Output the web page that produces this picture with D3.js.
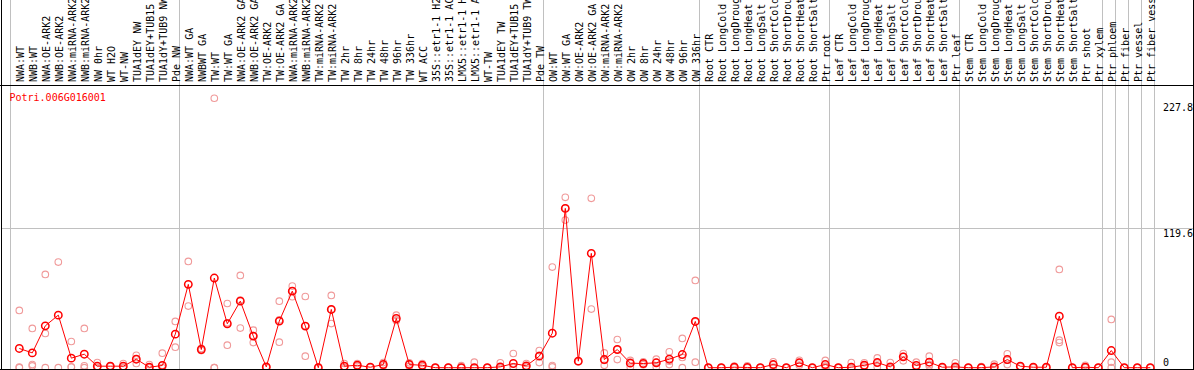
<!DOCTYPE html>
<html>
<head>
<meta charset="utf-8">
<script src="https://cdn.jsdelivr.net/npm/d3@7"></script>
<style>
    body { margin: 0; background: #fff; }
    svg text { font-family: "DejaVu Sans Mono", monospace; font-size: 10px; }
</style>
</head>
<body>
<script>
const gene = "Potri.006G016001";

const samples = [
    "NWA:WT", "NWB:WT", "NWA:OE-ARK2", "NWB:OE-ARK2", "NWA:miRNA-ARK2", "NWB:miRNA-ARK2",
    "NW 0hr", "WT H2O", "WT-NW", "TUA1dEY NW", "TUA1dEY+TUB15 NW", "TUA1dY+TUB9 NW", "Pde NW",
    "NWA:WT GA", "NWBWT GA", "TW:WT", "TW:WT GA", "NWA:OE-ARK2 GA", "NWB:OE-ARK2 GA",
    "TW:OE-ARK2", "TW:OE-ARK2 GA", "NWA:miRNA-ARK2", "NWB:miRNA-ARK2", "TW:miRNA-ARK2",
    "TW:miRNA-ARK2", "TW 2hr", "TW 8hr", "TW 24hr", "TW 48hr", "TW 96hr", "TW 336hr",
    "WT ACC", "35S::etr1-1 H2O", "35S::etr1-1 ACC", "LMX5::etr1-1 H2O", "LMX5::etr1-1 ACC",
    "WT-TW", "TUA1dEY TW", "TUA1dEY+TUB15 TW", "TUA1dY+TUB9 TW", "Pde TW",
    "OW:WT", "OW:WT GA", "OW:OE-ARK2", "OW:OE-ARK2 GA", "OW:miRNA-ARK2", "OW:miRNA-ARK2",
    "OW 2hr", "OW 8hr", "OW 24hr", "OW 48hr", "OW 96hr", "OW 336hr",
    "Root CTR", "Root LongCold", "Root LongDrought", "Root LongHeat", "Root LongSalt",
    "Root ShortCold", "Root ShortDrought", "Root ShortHeat", "Root ShortSalt", "Ptr root",
    "Leaf CTR", "Leaf LongCold", "Leaf LongDrought", "Leaf LongHeat", "Leaf LongSalt",
    "Leaf ShortCold", "Leaf ShortDrought", "Leaf ShortHeat", "Leaf ShortSalt", "Ptr leaf",
    "Stem CTR", "Stem LongCold", "Stem LongDrought", "Stem LongHeat", "Stem LongSalt",
    "Stem ShortCold", "Stem ShortDrought", "Stem ShortHeat", "Stem ShortSalt", "Ptr shoot",
    "Ptr xylem", "Ptr phloem", "Ptr fiber", "Ptr vessel", "Ptr fiber vessel"
];

// mean expression per sample
const means = [
    16.5, 12.7, 35.9, 45.1, 8.2, 11.6, 1.3, 1.3, 1.3, 7.3, 0.4, 1.9, 28.8,
    71.5, 15.6, 76.9, 37.7, 57.1, 27.1, 0.7, 40.0, 65.7, 35.7, 0, 50.0, 1.3, 2.1, 0.4,
    2.7, 42.2, 2.7, 2.1, 0, 0, 0, 0, 0, 0.7, 3.6, 1.6, 9.9,
    29.6, 136.7, 5.6, 98.1, 7.0, 15.6, 3.9, 3.6, 4.2, 7.3, 11.3, 39.7,
    0, 0, 0.4, 0.2, 0, 2.7, 0, 4.2, 0, 2.7,
    0, 0.4, 2.1, 4.4, 0.7, 9.3, 1.9, 4.7, 0.4, 0.7,
    0, 0, 0.7, 7.0, 1.3, 0.4, 0.4, 44.2, 0, 0.4, 0,
    14.7, 0, 0, 0
];

// individual replicates per sample
const reps = [
    [49.1, 0.5, 0], [33.7, 2.7, 1.5], [80, 29.4, 0], [90.6, 0], [22.5, 0.7, 0.5], [33.7, 1.6, 0],
    [4.4, 0, 0], [1.5, 1.3, 1], [3.6, 0.3, 0], [10.7, 3.6, 7.5], [2.7, 0, 0], [12.5, 2, 0], [39.7, 17.6],
    [91.2, 52.9], [16.5, 14.7], [231.2, 0, 0], [55.1, 19.3, 38.5], [79.2, 34, 58], [32.2, 21.6, 27.5],
    [0.7, 0.5], [57.1, 21.9, 41], [70, 60.9, 66], [61.1, 9.9, 36], [0.7, 0], [62, 37.9, 50],
    [3.6, 0.3, 0], [3.6, 1.5, 1.2], [0.4, 0.3], [4.4, 2.3, 1.4], [45.1, 40.5, 41], [4.2, 1.1, 2.8],
    [3.6, 1.7, 1], [0, 0], [0.3, 0], [1.7, 0], [4.7, 0], [0, 0], [4.2, 0, 0], [12.2, 0.7, 0],
    [3.6, 0.8, 0.4], [14.7, 4.4, 10.6],
    [86.3, 0.7, 1.8], [146.2, 126.7, 137], [5.6, 5], [145.3, 50.3], [12.7, 2.1, 6.2], [24.2, 7, 15.6],
    [6.2, 0.7, 4.8], [5.1, 2.5, 3.2], [7.3, 0.7, 4.6], [13.6, 2.7, 5.6], [25.1, 0, 8.8], [74.9, 4.7, 39.5],
    [0, 0], [0, 0], [1.3, 0], [1.6, 0], [0, 0], [5, 0.5, 2.6], [0, 0], [6.4, 2.2, 4], [0, 0], [6.2, 0.5, 1.4],
    [0, 0], [4.4, 0, 0], [4.2, 0.5, 1.6], [8.4, 0.5, 4.3], [4.4, 0, 0], [12.2, 5.9, 9.8], [4.7, 0.5, 0.5],
    [9.9, 1.4, 2.8], [0.4, 0], [4.2, 0, 0],
    [0, 0], [1, 0], [3, 0], [11.9, 2.7, 6.4], [1.3, 0.8], [0.4, 0], [0.4, 0], [84.3, 23.6, 21.6],
    [0, 0], [2.1, 0], [0, 0],
    [41.4, 4.7, 0], [0, 0], [0, 0], [0, 0]
];

// sample index where each group ends (vertical separators)
const groupEnds = [0, 13, 41, 53, 63, 73, 84, 85, 86, 87, 88];
const yTicks = [0, 119.6, 227.8];

const width = 1194, height = 370, headerH = 85, plotBottom = 369;

let x = d3.scaleBand()
    .domain(d3.range(samples.length))
    .range([11, 11 + 13 * samples.length]);
let px = i => x(i) + 8.3;
let edge = k => x.range()[0] + k * x.step() - 0.5;

let y = d3.scaleLinear()
    .domain([0, 227.8])
    .range([367.7, 102.2]);

let svg = d3.select("body")
    .append("svg")
    .attr("width", width)
    .attr("height", height);

svg.append("defs")
    .append("clipPath")
    .attr("id", "plot-clip")
    .append("rect")
    .attr("x", 1)
    .attr("y", headerH)
    .attr("width", width - 2)
    .attr("height", plotBottom - headerH);

// grid
svg.selectAll("line.vgrid")
    .data(groupEnds)
    .enter()
    .append("line")
    .attr("class", "vgrid")
    .attr("x1", d => edge(d))
    .attr("x2", d => edge(d))
    .attr("y1", 0)
    .attr("y2", height)
    .attr("stroke", "#c0c0c0")
    .attr("shape-rendering", "crispEdges");

svg.append("line")
    .attr("x1", 1)
    .attr("x2", width - 1)
    .attr("y1", Math.round(y(119.6)) + 0.5)
    .attr("y2", Math.round(y(119.6)) + 0.5)
    .attr("stroke", "#c0c0c0")
    .attr("shape-rendering", "crispEdges");

// sample labels in the header
svg.selectAll("text.sample")
    .data(samples)
    .enter()
    .append("text")
    .attr("class", "sample")
    .attr("transform", (d, i) => "translate(" + (px(i) + 0.7) + ",82) rotate(-90)")
    .attr("dominant-baseline", "central")
    .attr("fill", "#000")
    .text(d => d);

let plot = svg.append("g")
    .attr("clip-path", "url(#plot-clip)");

let repPoints = [];
reps.forEach((r, i) => r.forEach(v => repPoints.push({ i: i, v: v })));

plot.selectAll("circle.rep")
    .data(repPoints)
    .enter()
    .append("circle")
    .attr("class", "rep")
    .attr("cx", d => px(d.i))
    .attr("cy", d => y(d.v))
    .attr("r", 3.3)
    .attr("fill", "none")
    .attr("stroke", "#f09a9a")
    .attr("stroke-width", 1.1);

plot.append("path")
    .datum(means)
    .attr("d", d3.line().x((d, i) => px(i)).y(d => y(d)))
    .attr("fill", "none")
    .attr("stroke", "#ff0000")
    .attr("stroke-width", 1);

plot.selectAll("circle.mean")
    .data(means)
    .enter()
    .append("circle")
    .attr("class", "mean")
    .attr("cx", (d, i) => px(i))
    .attr("cy", d => y(d))
    .attr("r", 3.7)
    .attr("fill", "none")
    .attr("stroke", "#ff0000")
    .attr("stroke-width", 1.5);

// frame
let frame = [
    [1.5, 0, 1.5, height],
    [width - 0.5, 0, width - 0.5, height],
    [0, headerH + 0.5, width, headerH + 0.5],
    [0, plotBottom + 0.5, width, plotBottom + 0.5]
];
svg.selectAll("line.frame")
    .data(frame)
    .enter()
    .append("line")
    .attr("class", "frame")
    .attr("x1", d => d[0])
    .attr("y1", d => d[1])
    .attr("x2", d => d[2])
    .attr("y2", d => d[3])
    .attr("stroke", "#000")
    .attr("stroke-width", 1.5)
    .attr("shape-rendering", "crispEdges");

// value axis on the right
let axis = svg.append("g")
    .attr("transform", "translate(1160,0)")
    .call(d3.axisRight(y).tickValues(yTicks).tickSize(0).tickPadding(3).tickFormat(d => d));
axis.select(".domain").remove();
axis.selectAll("text")
    .attr("font-family", "DejaVu Sans Mono, monospace")
    .attr("font-size", 10)
    .attr("fill", "#000")
    .attr("dy", d => d === 0 ? -2 : 8.6);

svg.append("text")
    .attr("x", 9.5)
    .attr("y", 100.5)
    .attr("fill", "#ff0000")
    .text(gene);
</script>
</body>
</html>
